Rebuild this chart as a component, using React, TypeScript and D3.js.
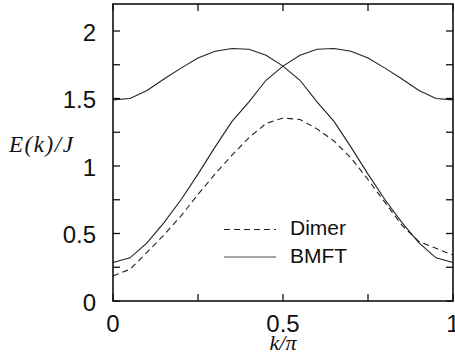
import React, { useEffect, useRef } from "react";
import * as d3 from "d3";

// k/pi sample points
const kValues = [
  0, 0.05, 0.1, 0.15, 0.2, 0.25, 0.3, 0.35, 0.4, 0.45, 0.5, 0.55, 0.6, 0.65,
  0.7, 0.75, 0.8, 0.85, 0.9, 0.95, 1,
];

// BMFT band starting at 1.5 (the other branch is its mirror image)
const bmftUpper = [
  1.49, 1.5, 1.56, 1.645, 1.725, 1.8, 1.85, 1.87, 1.865, 1.82, 1.74, 1.635,
  1.475, 1.33, 1.14, 0.94, 0.75, 0.58, 0.43, 0.32, 0.285,
];
const bmftLower = [
  0.285, 0.32, 0.43, 0.58, 0.75, 0.94, 1.14, 1.33, 1.475, 1.635, 1.74, 1.82,
  1.865, 1.87, 1.85, 1.8, 1.725, 1.645, 1.56, 1.5, 1.49,
];
const dimer = [
  0.185, 0.235, 0.36, 0.49, 0.63, 0.79, 0.94, 1.08, 1.21, 1.315, 1.355,
  1.345, 1.275, 1.185, 1.06, 0.9, 0.73, 0.56, 0.44, 0.39, 0.34,
];

const xTicks = [0, 0.25, 0.5, 0.75, 1];
const xLabels = ["0", "", "0.5", "", "1"];
const yTicks = [0, 0.25, 0.5, 0.75, 1, 1.25, 1.5, 1.75, 2];
const yLabels = ["0", "", "0.5", "", "1", "", "1.5", "", "2"];

export default function App() {
  const ref = useRef<SVGSVGElement>(null);

  useEffect(() => {
    const svg = d3.select(ref.current);
    svg.selectAll("*").remove();

    const x = d3.scaleLinear().domain([0, 1]).range([113, 453]);
    const y = d3.scaleLinear().domain([0, 2.2]).range([301, 4]);
    const tick = 7;
    const sans = "'Liberation Sans', Arial, sans-serif";
    const serif = "'Liberation Serif', 'Times New Roman', serif";

    const line = d3
      .line<number>()
      .x((d, i) => x(kValues[i]))
      .y((d) => y(d));

    const curves = svg.append("g").attr("fill", "none").attr("stroke", "#222");
    curves.append("path").attr("d", line(bmftUpper)).attr("stroke-width", 1.1);
    curves.append("path").attr("d", line(bmftLower)).attr("stroke-width", 1.1);
    curves
      .append("path")
      .attr("d", line(dimer))
      .attr("stroke-width", 1.1)
      .attr("stroke-dasharray", "6,4");

    // ticks on all four sides
    const ticks = svg.append("g").attr("stroke", "#111").attr("stroke-width", 1.3);
    xTicks.forEach((t) => {
      ticks.append("line").attr("x1", x(t)).attr("x2", x(t)).attr("y1", y(0)).attr("y2", y(0) - tick);
      ticks.append("line").attr("x1", x(t)).attr("x2", x(t)).attr("y1", y(2.2)).attr("y2", y(2.2) + tick);
    });
    yTicks.forEach((t) => {
      ticks.append("line").attr("x1", x(0)).attr("x2", x(0) + tick).attr("y1", y(t)).attr("y2", y(t));
      ticks.append("line").attr("x1", x(1)).attr("x2", x(1) - tick).attr("y1", y(t)).attr("y2", y(t));
    });

    svg
      .append("rect")
      .attr("x", x(0))
      .attr("y", y(2.2))
      .attr("width", x(1) - x(0))
      .attr("height", y(0) - y(2.2))
      .attr("fill", "none")
      .attr("stroke", "#111")
      .attr("stroke-width", 1.6);

    // tick labels
    svg
      .append("g")
      .attr("font-family", sans)
      .attr("font-size", 24)
      .attr("fill", "#111")
      .attr("text-anchor", "end")
      .selectAll("text")
      .data(yTicks.filter((d, i) => yLabels[i] !== ""))
      .join("text")
      .attr("x", 96)
      .attr("y", (d) => y(d) + 9.5)
      .text((d) => yLabels[yTicks.indexOf(d)]);

    svg
      .append("g")
      .attr("font-family", sans)
      .attr("font-size", 24)
      .attr("fill", "#111")
      .attr("text-anchor", "middle")
      .selectAll("text")
      .data(xTicks.filter((d, i) => xLabels[i] !== ""))
      .join("text")
      .attr("x", (d) => x(d))
      .attr("y", 331.5)
      .text((d) => xLabels[xTicks.indexOf(d)]);

    // axis titles
    svg
      .append("text")
      .attr("x", x(0.5))
      .attr("y", 350)
      .attr("text-anchor", "middle")
      .attr("font-family", serif)
      .attr("font-style", "italic")
      .attr("font-size", 22)
      .attr("fill", "#111")
      .text("k/π");

    svg
      .append("text")
      .attr("x", 9)
      .attr("y", 152)
      .attr("font-family", serif)
      .attr("font-style", "italic")
      .attr("font-size", 23)
      .attr("textLength", 64)
      .attr("fill", "#111")
      .text("E(k)/J");

    // legend
    const legend = svg.append("g").attr("font-family", sans).attr("font-size", 21).attr("fill", "#111");
    legend
      .append("line")
      .attr("x1", 224)
      .attr("x2", 276)
      .attr("y1", 229.5)
      .attr("y2", 229.5)
      .attr("stroke", "#222")
      .attr("stroke-width", 1.1)
      .attr("stroke-dasharray", "6,4");
    legend.append("text").attr("x", 290).attr("y", 235).text("Dimer");
    legend
      .append("line")
      .attr("x1", 224)
      .attr("x2", 276)
      .attr("y1", 257)
      .attr("y2", 257)
      .attr("stroke", "#888")
      .attr("stroke-width", 1.4);
    legend.append("text").attr("x", 290).attr("y", 263).text("BMFT");
  }, []);

  return (
    <svg
      ref={ref}
      width={455}
      height={362}
      style={{ position: "absolute", left: 0, top: 0, background: "#fff" }}
    />
  );
}
